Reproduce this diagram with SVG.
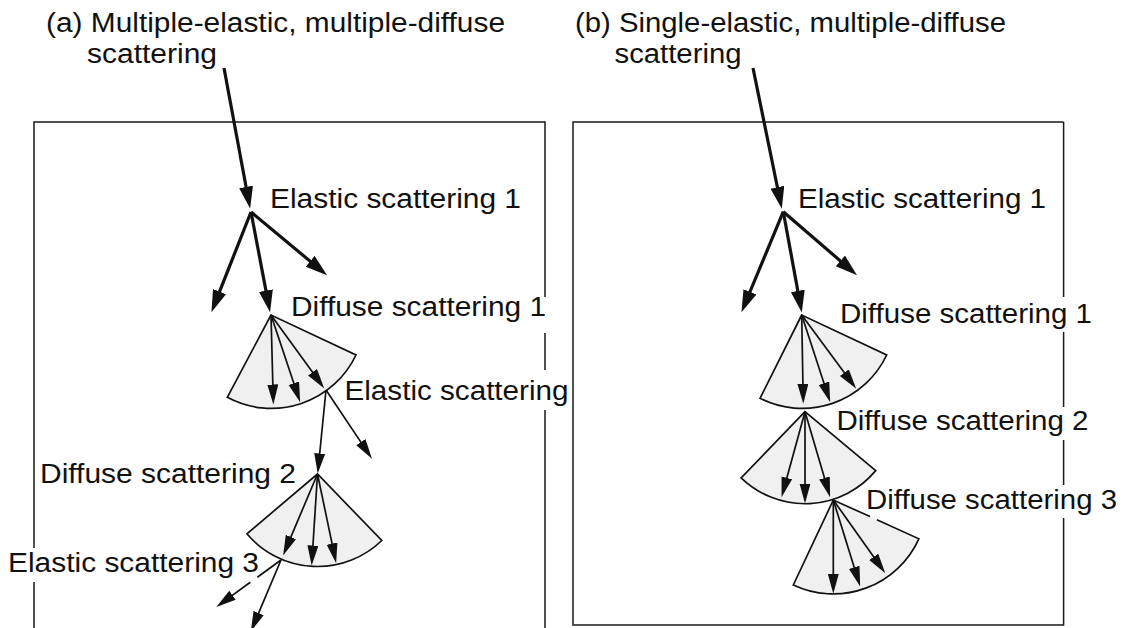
<svg xmlns="http://www.w3.org/2000/svg" width="1127" height="628" viewBox="0 0 1127 628">
<style>
.bg{fill:#ffffff}
.box{fill:none;stroke:#1a1a1a;stroke-width:1.5}
.fan{fill:#f0f0f0;stroke:#111;stroke-width:1.7;stroke-linejoin:miter}
.fanfill{fill:#f0f0f0;stroke:none}
.fanline{fill:none;stroke:#111;stroke-width:1.7}
.thick{fill:none;stroke:#111;stroke-width:3.2;marker-end:url(#headThick)}
.thin{fill:none;stroke:#111;stroke-width:1.7;marker-end:url(#headThin)}
.plain{fill:none;stroke:#111;stroke-width:1.7}
.lbl{font-family:"Liberation Sans",Arial,sans-serif;font-size:27px;fill:#111}
</style>
<defs>
<marker id="headThick" markerUnits="userSpaceOnUse" markerWidth="24" markerHeight="16" refX="11" refY="7" orient="auto" viewBox="0 0 24 16">
<path d="M0,0 L22,7 L0,14 Z" fill="#111"/>
</marker>
<marker id="headThin" markerUnits="userSpaceOnUse" markerWidth="22" markerHeight="13" refX="10" refY="5.5" orient="auto" viewBox="0 0 22 13">
<path d="M0,0 L20,5.5 L0,11 Z" fill="#111"/>
</marker>
</defs>
<rect class="bg" x="0" y="0" width="1127" height="628"/>

<g id="panel-a-frame">
<path class="box" d="M34,628 L34,582 M34,548 L34,122 L545,122 L545,297 M545,333 L545,370 M545,410 L545,628"/>
</g>
<g id="panel-b-frame">
<path class="box" d="M1063.6,122 L573,122 L573,625 L1063.6,625 L1063.6,518 M1063.6,485 L1063.6,440 M1063.6,407 L1063.6,332 M1063.6,297 L1063.6,122"/>
</g>

<g id="fans">
<path id="fan-a1" class="fan" d="M271,315 L227.3,397.3 A93.5,93.5 0 0 0 356,355 Z"/>
<path id="fan-a2" class="fan" d="M317.5,474 L246.9,533.8 A92.5,92.5 0 0 0 381.8,540.5 Z"/>
<path id="fan-b1" class="fan" d="M801.7,315 L760,398.3 A93.5,93.5 0 0 0 886.7,355 Z"/>
<path id="fan-b2" class="fan" d="M805,411.7 L741.1,477.9 A92,92 0 0 0 875.7,470.6 Z"/>
<g id="fan-b3">
<path class="fanfill" d="M833.3,500 L793.3,585 A94,94 0 0 0 918.9,538.8 Z"/>
<path class="fanline" d="M876.9,519.8 L918.9,538.8 A94,94 0 0 1 793.3,585 L833.3,500 L870,516.6"/>
</g>
</g>

<g id="connectors">
<!-- panel a: incident and elastic scattering 1 -->
<line class="thick" x1="224" y1="68" x2="248.1" y2="197.7"/>
<line class="thick" x1="251" y1="212" x2="215.5" y2="301.9"/>
<line class="thick" x1="251" y1="212" x2="268" y2="301.4"/>
<line class="thick" x1="251" y1="212" x2="318.6" y2="268.3"/>
<!-- diffuse 1 (a) -->
<line class="thin" x1="271" y1="315" x2="273.1" y2="394.5"/>
<line class="thin" x1="271" y1="315" x2="297" y2="392.7"/>
<line class="thin" x1="271" y1="315" x2="318.4" y2="380.3"/>
<!-- elastic scattering (a) -->
<line class="thin" x1="326" y1="390" x2="318.7" y2="463.5"/>
<line class="thin" x1="326" y1="390" x2="366.4" y2="450.4"/>
<!-- diffuse 2 (a) -->
<line class="thin" x1="317.5" y1="474" x2="287" y2="546.2"/>
<line class="thin" x1="317.5" y1="474" x2="312.3" y2="555.5"/>
<line class="thin" x1="317.5" y1="474" x2="334.1" y2="553.4"/>
<!-- elastic scattering 3 (a) -->
<line class="thin" x1="281" y1="560" x2="254.7" y2="622.3"/>
<line class="plain" x1="281" y1="560" x2="257.3" y2="577.2"/>
<line class="thin" x1="250.3" y1="582.3" x2="224.4" y2="601.1"/>
<!-- panel b: incident and elastic scattering 1 -->
<line class="thick" x1="753" y1="68" x2="779.6" y2="198"/>
<line class="thick" x1="783.3" y1="211.7" x2="745.7" y2="302"/>
<line class="thick" x1="783.3" y1="211.7" x2="799.8" y2="301.7"/>
<line class="thick" x1="783.3" y1="211.7" x2="848.7" y2="268.1"/>
<!-- diffuse 1 (b) -->
<line class="thin" x1="801.7" y1="315" x2="803.1" y2="393.8"/>
<line class="thin" x1="801.7" y1="315" x2="827.1" y2="392.7"/>
<line class="thin" x1="801.7" y1="315" x2="850.3" y2="380.7"/>
<!-- diffuse 2 (b) -->
<line class="thin" x1="805" y1="411.7" x2="784.2" y2="487.5"/>
<line class="thin" x1="805" y1="411.7" x2="805" y2="493.5"/>
<line class="thin" x1="805" y1="411.7" x2="827.3" y2="487.6"/>
<!-- diffuse 3 (b) -->
<line class="thin" x1="833.3" y1="500" x2="833.3" y2="583.8"/>
<line class="thin" x1="833.3" y1="500" x2="857.2" y2="576.9"/>
<line class="thin" x1="833.3" y1="500" x2="879.5" y2="565"/>
</g>

<g id="labels">
<g id="title-a">
<text class="lbl" x="46" y="32" textLength="459" lengthAdjust="spacingAndGlyphs">(a) Multiple-elastic, multiple-diffuse</text>
<text class="lbl" x="87" y="63" textLength="130" lengthAdjust="spacingAndGlyphs">scattering</text>
</g>
<g id="title-b">
<text class="lbl" x="575" y="32" textLength="431" lengthAdjust="spacingAndGlyphs">(b) Single-elastic, multiple-diffuse</text>
<text class="lbl" x="614.5" y="63" textLength="127" lengthAdjust="spacingAndGlyphs">scattering</text>
</g>
<g id="label-a-elastic1"><text class="lbl" x="270" y="208" textLength="251" lengthAdjust="spacingAndGlyphs">Elastic scattering 1</text></g>
<g id="label-a-diffuse1"><text class="lbl" x="291" y="316" textLength="255" lengthAdjust="spacingAndGlyphs">Diffuse scattering 1</text></g>
<g id="label-a-elastic2"><text class="lbl" x="344.5" y="400" textLength="224" lengthAdjust="spacingAndGlyphs">Elastic scattering</text></g>
<g id="label-a-diffuse2"><text class="lbl" x="40" y="483" textLength="256" lengthAdjust="spacingAndGlyphs">Diffuse scattering 2</text></g>
<g id="label-a-elastic3"><text class="lbl" x="8" y="572" textLength="251" lengthAdjust="spacingAndGlyphs">Elastic scattering 3</text></g>
<g id="label-b-elastic1"><text class="lbl" x="798" y="208" textLength="248" lengthAdjust="spacingAndGlyphs">Elastic scattering 1</text></g>
<g id="label-b-diffuse1"><text class="lbl" x="840" y="323" textLength="252" lengthAdjust="spacingAndGlyphs">Diffuse scattering 1</text></g>
<g id="label-b-diffuse2"><text class="lbl" x="836.5" y="430" textLength="252" lengthAdjust="spacingAndGlyphs">Diffuse scattering 2</text></g>
<g id="label-b-diffuse3"><text class="lbl" x="866" y="509" textLength="251" lengthAdjust="spacingAndGlyphs">Diffuse scattering 3</text></g>
</g>
</svg>
